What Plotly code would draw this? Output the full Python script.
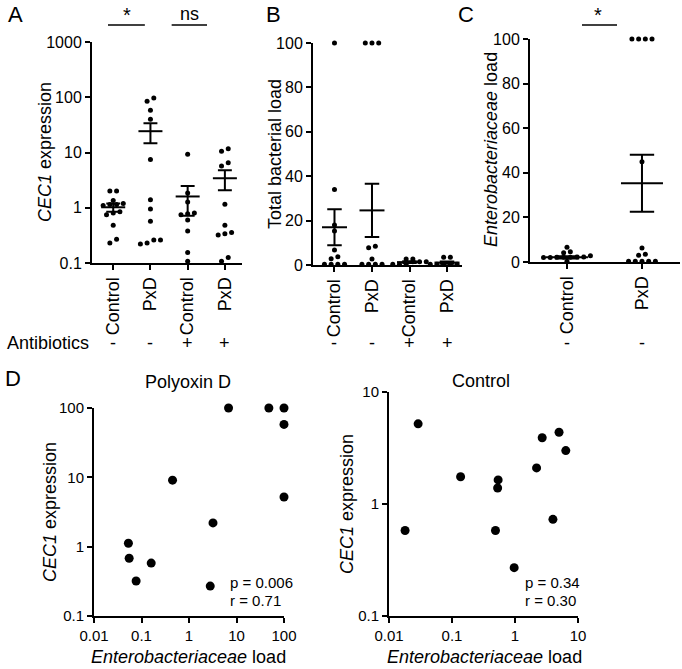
import numpy as np
import plotly.graph_objects as go

W, H = 682, 669
FONT = "Liberation Sans, Arial, sans-serif"

# ---------------- data ----------------
cats_A = ["Control", "PxD", "Control", "PxD"]
antibiotics_A = ["-", "-", "+", "+"]
A_control = [2.0, 2.0, 1.35, 1.2, 1.15, 1.15, 1.1, 0.85, 0.8, 0.75, 0.48, 0.23, 0.27]
A_pxd = [97, 85, 58, 40, 7.5, 1.4, 0.95, 0.57, 0.26, 0.22, 0.23, 0.26]
A_ctrl_ab = [9.3, 1.85, 1.27, 0.8, 0.78, 0.75, 0.6, 0.38, 0.155, 0.108]
A_pxd_ab = [11.7, 10.5, 6.5, 5.7, 1.16, 0.48, 0.355, 0.34, 0.32, 0.126, 0.108]
A_mean = [1.02, 24.3, 1.6, 3.42]
A_sem = [0.17, 9.6, 0.88, 1.35]

cats_B = ["Control", "PxD", "Control", "PxD"]
antibiotics_B = ["-", "-", "+", "+"]
B_control = [100, 34, 18, 15.3, 6.8, 3.7, 2.8, 0.3, 0.3, 0.3, 0.3]
B_pxd = [100, 100, 100, 8.5, 7.8, 2.7, 0.3, 0.3, 0.3, 0.3]
B_ctrl_ab = [2.7, 2.7, 1.5, 1.5, 1.5, 0.3, 0.3, 0.3]
B_pxd_ab = [3.5, 3.5, 1.0, 0.3, 0.3, 0.3, 0.3, 0.3]
B_mean = [17.0, 24.6, 1.3, 1.1]
B_sem = [8.1, 12.0, 0.4, 0.5]

cats_C = ["Control", "PxD"]
antibiotics_C = ["-", "-"]
C_control = [6.6, 4.6, 4.2, 2.8, 2.2, 2.2, 2.1, 2.1, 2.1, 2.0, 2.0, 0.3]
C_pxd = [100, 100, 100, 100, 45, 6.3, 3.5, 3.0, 0.3, 0.3, 0.3, 0.3, 0.3]
C_mean = [2.1, 35.3]
C_sem = [0.5, 12.8]
lin_ticks = [0, 20, 40, 60, 80, 100]

D_pxd_load = [0.053, 0.055, 0.077, 0.16, 0.45, 3.2, 2.8, 100, 100, 6.8, 48, 100]
D_pxd_cec1 = [1.12, 0.68, 0.32, 0.58, 9.1, 2.2, 0.27, 5.2, 58, 100, 100, 100]
D_ctrl_load = [0.018, 0.029, 0.137, 0.54, 0.53, 0.49, 0.97, 2.2, 2.7, 5.0, 6.4, 4.0]
D_ctrl_cec1 = [0.58, 5.2, 1.75, 1.64, 1.39, 0.58, 0.27, 2.1, 3.9, 4.37, 3.0, 0.73]
D_left_stats = ["p = 0.006", "r = 0.71"]
D_right_stats = ["p = 0.34", "r = 0.30"]

# ---------------- layout geometry (pixels) ----------------
GEOM = {
    # name: (x px domain, y px domain (top, bottom), x range, y range, x log, y log)
    "A": ((92, 242), (42, 263), (-0.57, 3.46), (-1, 3), False, True),
    "B": ((313, 462), (43, 265), (-0.573, 3.40), (0, 100), False, False),
    "C": ((530, 680), (39, 262), (-0.493, 1.507), (0, 100), False, False),
    "DL": ((94, 284), (408, 616), (-2, 2), (-1, 2), True, True),
    "DR": ((389, 578), (392, 616), (-2, 1), (-1, 1), True, True),
}


def fx(px):
    return px / W


def fy(py):
    return 1 - py / H


def fmt(v):
    return ("%g" % v)


def swarm(values, center, px_per_unit, log, px_per_cat, diam=4.7, step=6.7):
    t = [(np.log10(v) if log else v) * px_per_unit for v in values]
    order = sorted(range(len(values)), key=lambda i: t[i])
    groups = []
    for i in order:
        if groups and t[i] - t[groups[-1][0]] < diam:
            groups[-1].append(i)
        else:
            groups.append([i])
    xs = [0.0] * len(values)
    for g in groups:
        n = len(g)
        for k, i in enumerate(g):
            xs[i] = center + (k - (n - 1) / 2) * step / px_per_cat
    return xs


def ppu(key):
    (x0, x1), (y0, y1), xr, yr, _, _ = GEOM[key]
    return (x1 - x0) / (xr[1] - xr[0]), (y1 - y0) / (yr[1] - yr[0])


fig = go.Figure()

dot = dict(color="black", size=5)


def add_group_panel(key, groups, means, sems, xa, ya, mean_px, diam):
    px_x, px_y = ppu(key)
    log = GEOM[key][5]
    for ci, vals in enumerate(groups):
        xs = swarm(vals, ci, px_y, log, px_x, diam=diam)
        fig.add_trace(go.Scatter(x=xs, y=vals, mode="markers", marker=dot,
                                 xaxis=xa, yaxis=ya, cliponaxis=False, hoverinfo="skip"))
    fig.add_trace(go.Scatter(
        x=list(range(len(means))), y=means, mode="markers",
        marker=dict(symbol="line-ew", size=mean_px / 1.4, color="black",
                    line=dict(width=2, color="black")),
        error_y=dict(type="data", array=sems, width=mean_px * 0.29, thickness=2, color="black"),
        xaxis=xa, yaxis=ya, cliponaxis=False, hoverinfo="skip"))


add_group_panel("A", [A_control, A_pxd, A_ctrl_ab, A_pxd_ab], A_mean, A_sem, "x", "y", 24, 4.7)
add_group_panel("B", [B_control, B_pxd, B_ctrl_ab, B_pxd_ab], B_mean, B_sem, "x2", "y2", 25, 3.5)
add_group_panel("C", [C_control, C_pxd], C_mean, C_sem, "x3", "y3", 42, 3.5)

fig.add_trace(go.Scatter(x=D_pxd_load, y=D_pxd_cec1, mode="markers",
                         marker=dict(color="black", size=9), xaxis="x4", yaxis="y4",
                         cliponaxis=False, hoverinfo="skip"))
fig.add_trace(go.Scatter(x=D_ctrl_load, y=D_ctrl_cec1, mode="markers",
                         marker=dict(color="black", size=9), xaxis="x5", yaxis="y5",
                         cliponaxis=False, hoverinfo="skip"))


# ---------------- minor log ticks: one-sided error bars starting at the axis line ----------------
def minor_vals(lo, hi):
    return [m * 10.0 ** e for e in range(int(lo), int(hi)) for m in range(2, 10)]


def add_minor(key, xa, ya, which, length=4.5, width=1.2):
    px_x, px_y = ppu(key)
    _, _, xr, yr, xlog, ylog = GEOM[key]
    invisible = dict(size=1, opacity=0)
    if which == "y":
        vals = minor_vals(*yr)
        if xlog:
            edge = 10 ** xr[0]
            delta = edge - 10 ** (xr[0] - length / px_x)
        else:
            edge = xr[0]
            delta = length / px_x
        fig.add_trace(go.Scatter(
            x=[edge] * len(vals), y=vals, mode="markers", marker=invisible,
            error_x=dict(type="data", symmetric=False, array=[0] * len(vals),
                         arrayminus=[delta] * len(vals), width=0, thickness=width,
                         color="black"),
            xaxis=xa, yaxis=ya, cliponaxis=False, hoverinfo="skip"))
    else:
        vals = minor_vals(*xr)
        if ylog:
            edge = 10 ** yr[0]
            delta = edge - 10 ** (yr[0] - length / px_y)
        else:
            edge = yr[0]
            delta = length / px_y
        fig.add_trace(go.Scatter(
            x=vals, y=[edge] * len(vals), mode="markers", marker=invisible,
            error_y=dict(type="data", symmetric=False, array=[0] * len(vals),
                         arrayminus=[delta] * len(vals), width=0, thickness=width,
                         color="black"),
            xaxis=xa, yaxis=ya, cliponaxis=False, hoverinfo="skip"))


add_minor("A", "x", "y", "y")
add_minor("DL", "x4", "y4", "y")
add_minor("DL", "x4", "y4", "x")
add_minor("DR", "x5", "y5", "y")
add_minor("DR", "x5", "y5", "x")


def ax(**kw):
    d = dict(showline=True, linecolor="black", linewidth=2, ticks="outside", tickwidth=2,
             ticklen=5, tickcolor="black", showgrid=False, zeroline=False,
             tickfont=dict(size=16, color="black", family=FONT), automargin=False,
             fixedrange=True, mirror=False)
    d.update(kw)
    return d


def xdom(key):
    return [fx(GEOM[key][0][0]), fx(GEOM[key][0][1])]


def ydom(key):
    return [fy(GEOM[key][1][1]), fy(GEOM[key][1][0])]


def logax(key, which, **kw):
    rng = GEOM[key][2] if which == "x" else GEOM[key][3]
    d = ax(type="log", range=list(rng), tickmode="linear", tick0=0, dtick=1,
           exponentformat="none")
    d["domain"] = xdom(key) if which == "x" else ydom(key)
    d.update(kw)
    return d


cat_font = dict(size=18, color="black", family=FONT)
dfont = dict(size=15, color="black", family=FONT)

fig.update_layout(
    width=W, height=H, margin=dict(l=0, r=0, t=0, b=0),
    paper_bgcolor="white", plot_bgcolor="white", showlegend=False,
    font=dict(family=FONT, color="black"),
    xaxis=ax(domain=xdom("A"), anchor="y", range=list(GEOM["A"][2]),
             tickvals=list(range(4)), ticktext=cats_A, tickangle=-90, tickfont=cat_font),
    yaxis=logax("A", "y", anchor="x"),
    xaxis2=ax(domain=xdom("B"), anchor="y2", range=list(GEOM["B"][2]),
              tickvals=list(range(4)), ticktext=cats_B, tickangle=-90, tickfont=cat_font),
    yaxis2=ax(domain=ydom("B"), anchor="x2", range=list(GEOM["B"][3]),
              tickvals=lin_ticks, ticktext=[fmt(v) for v in lin_ticks]),
    xaxis3=ax(domain=xdom("C"), anchor="y3", range=list(GEOM["C"][2]),
              tickvals=list(range(2)), ticktext=cats_C, tickangle=-90, tickfont=cat_font),
    yaxis3=ax(domain=ydom("C"), anchor="x3", range=list(GEOM["C"][3]),
              tickvals=lin_ticks, ticktext=[fmt(v) for v in lin_ticks]),
    xaxis4=logax("DL", "x", anchor="y4", tickfont=dfont),
    yaxis4=logax("DL", "y", anchor="x4", tickfont=dfont),
    xaxis5=logax("DR", "x", anchor="y5", tickfont=dfont),
    yaxis5=logax("DR", "y", anchor="x5", tickfont=dfont),
)

ann = []


def text(x, y, s, size=18, angle=0, xanchor="center", xref="paper", **kw):
    ann.append(dict(x=x, y=y, xref=xref, yref="paper", text=s, showarrow=False,
                    font=dict(size=size, color="black", family=FONT), textangle=angle,
                    xanchor=xanchor, yanchor="middle", **kw))


# panel letters
text(fx(15), fy(15), "A", size=22)
text(fx(273), fy(15), "B", size=22)
text(fx(466), fy(15), "C", size=22)
text(fx(13), fy(378), "D", size=22)

# y-axis titles
text(fx(45), fy(152), "<i>CEC1</i> expression", angle=-90)
text(fx(275), fy(154), "Total bacterial load", angle=-90)
text(fx(491), fy(150), "<i>Enterobacteriaceae</i> load", angle=-90)
text(fx(50), fy(512), "<i>CEC1</i> expression", angle=-90)
text(fx(347), fy(504), "<i>CEC1</i> expression", angle=-90)

# D x titles and panel titles
text(fx(189), fy(657), "<i>Enterobacteriaceae</i> load")
text(fx(484), fy(657), "<i>Enterobacteriaceae</i> load")
text(fx(188), fy(382), "Polyoxin D")
text(fx(481), fy(381), "Control")

# p / r stats
for i, s in enumerate(D_left_stats):
    text(fx(228), fy(582 + 18 * i), s, size=15, xanchor="left")
for i, s in enumerate(D_right_stats):
    text(fx(523), fy(582 + 18 * i), s, size=15, xanchor="left")

# antibiotics row
text(fx(5), fy(343), "Antibiotics", xanchor="left")
for xa, labs in (("x", antibiotics_A), ("x2", antibiotics_B), ("x3", antibiotics_C)):
    for i, s in enumerate(labs):
        text(i, fy(343), s, xref=xa)

# significance marks
text(0.37, fy(15), "*", xref="x", size=20)
text(2.06, fy(14), "ns", xref="x", size=18)
text(0.41, fy(15), "*", xref="x3", size=20)

shapes = [
    dict(type="line", xref="x", yref="paper", x0=-0.14, x1=0.85, y0=fy(25), y1=fy(25),
         line=dict(color="black", width=1.5)),
    dict(type="line", xref="x", yref="paper", x0=1.57, x1=2.52, y0=fy(25), y1=fy(25),
         line=dict(color="black", width=1.5)),
    dict(type="line", xref="x3", yref="paper", x0=0.2, x1=0.667, y0=fy(25), y1=fy(25),
         line=dict(color="black", width=1.5)),
]

fig.update_layout(annotations=ann, shapes=shapes)
fig.write_html("out.html", config={"displayModeBar": False, "staticPlot": True},
               post_script="document.body.style.margin='0px';document.body.style.padding='0px';")
